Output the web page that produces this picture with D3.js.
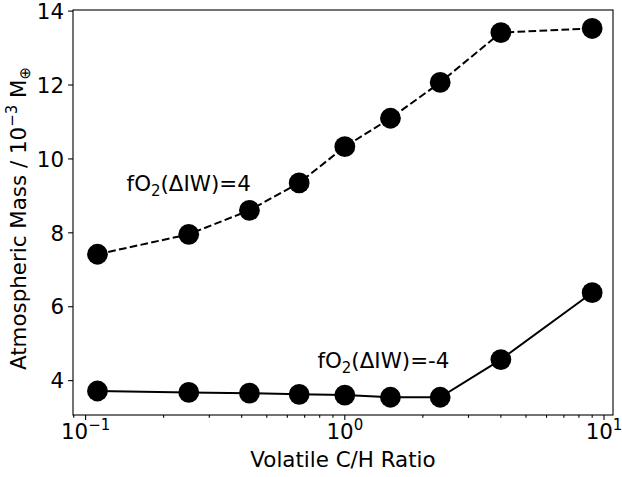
<!DOCTYPE html>
<html>
<head>
<meta charset="utf-8">
<script src="https://cdn.jsdelivr.net/npm/d3@7"></script>
<style>
  body { margin: 0; background: #fff; }
  text { font-family: "DejaVu Sans", sans-serif; fill: #000; }
</style>
</head>
<body>
<svg id="chart" width="622" height="477"></svg>
<script>
// C/H ratios
const ratios = [1 / 9, 1 / 4, 3 / 7, 2 / 3, 1, 3 / 2, 7 / 3, 4, 9];
// atmospheric mass, 10^-3 Earth masses
const massOxidised = [7.42, 7.96, 8.61, 9.35, 10.33, 11.10, 12.07, 13.42, 13.53];
const massReduced = [3.72, 3.68, 3.66, 3.63, 3.61, 3.55, 3.55, 4.57, 6.38];
const yTicks = [4, 6, 8, 10, 12, 14];
const xTicks = [0.1, 1, 10];

const margin = { top: 10, right: 9, bottom: 62, left: 73 };
const width = 622 - margin.left - margin.right;
const height = 477 - margin.top - margin.bottom;

const svg = d3.select("#chart");
const g = svg.append("g").attr("transform", `translate(${margin.left},${margin.top})`);

const x = d3.scaleLog().domain([0.0894, 10.83]).range([0, width]);
const y = d3.scaleLinear().domain([3.07, 14.03]).range([height, 0]);

const fs = 21.4;

// minor ticks on x
const minor = [];
[0.01, 0.1, 1].forEach(dec => {
  for (let k = 2; k <= 9; k++) {
    const v = dec * k;
    if (v >= x.domain()[0] && v <= x.domain()[1]) minor.push(v);
  }
});
g.selectAll(".minor").data(minor).enter().append("line")
  .attr("x1", d => x(d)).attr("x2", d => x(d))
  .attr("y1", height).attr("y2", height + 2.8)
  .attr("stroke", "#000").attr("stroke-width", 1.1);

g.selectAll(".xmajor").data(xTicks).enter().append("line")
  .attr("x1", d => x(d)).attr("x2", d => x(d))
  .attr("y1", height).attr("y2", height + 4.9)
  .attr("stroke", "#000").attr("stroke-width", 1.1);

const xl = g.selectAll(".xlab").data(xTicks).enter().append("text")
  .attr("x", d => x(d))
  .attr("y", height + 24)
  .attr("text-anchor", "middle")
  .style("font-size", fs + "px");
xl.append("tspan").text("10");
xl.append("tspan").attr("dy", -9).style("font-size", (fs * 0.7) + "px")
  .text(d => d === 0.1 ? "\u22121" : d === 1 ? "0" : "1");

g.selectAll(".ytick").data(yTicks).enter().append("line")
  .attr("x1", -4.9).attr("x2", 0)
  .attr("y1", d => y(d)).attr("y2", d => y(d))
  .attr("stroke", "#000").attr("stroke-width", 1.1);
g.selectAll(".ylab").data(yTicks).enter().append("text")
  .attr("x", -9).attr("y", d => y(d))
  .attr("dy", "0.36em")
  .attr("text-anchor", "end")
  .style("font-size", fs + "px")
  .text(d => d);

// series
const line = d3.line().x(d => x(d[0])).y(d => y(d[1]));
const series = [
  { vals: massOxidised, dash: "7.7,3.3" },
  { vals: massReduced, dash: null }
];
series.forEach(s => {
  const pts = ratios.map((r, i) => [r, s.vals[i]]);
  g.append("path").datum(pts)
    .attr("d", line)
    .attr("fill", "none")
    .attr("stroke", "#000")
    .attr("stroke-width", 2)
    .attr("stroke-dasharray", s.dash);
  g.selectAll(null).data(pts).enter().append("circle")
    .attr("cx", d => x(d[0])).attr("cy", d => y(d[1]))
    .attr("r", 10.4).attr("fill", "#000");
});

// frame
g.append("rect").attr("width", width).attr("height", height)
  .attr("fill", "none").attr("stroke", "#000").attr("stroke-width", 1.1);

// annotations
function fo2(xp, yp, val) {
  const t = g.append("text").attr("x", xp).attr("y", yp).style("font-size", fs + "px");
  t.append("tspan").text("fO");
  t.append("tspan").attr("dy", 5).style("font-size", (fs * 0.7) + "px").text("2");
  t.append("tspan").attr("dy", -5).text("(\u0394IW)=" + val);
}
fo2(x(0.1) + 41, y(9.13), "4");
fo2(x(1.5) - 73, y(4.33), "-4");

// axis labels
g.append("text")
  .attr("x", width / 2).attr("y", height + 52)
  .attr("text-anchor", "middle")
  .style("font-size", fs + "px")
  .text("Volatile C/H Ratio");

const yl = g.append("text")
  .attr("transform", `translate(${-47},${height / 2 + 6}) rotate(-90)`)
  .attr("text-anchor", "middle")
  .style("font-size", fs + "px");
yl.append("tspan").text("Atmospheric Mass / 10");
yl.append("tspan").attr("dy", -9).style("font-size", (fs * 0.7) + "px").text("\u22123");
yl.append("tspan").attr("dy", 9).text(" M");
yl.append("tspan").attr("dy", 4).style("font-size", (fs * 0.7) + "px").text("\u2295");
</script>
</body>
</html>
